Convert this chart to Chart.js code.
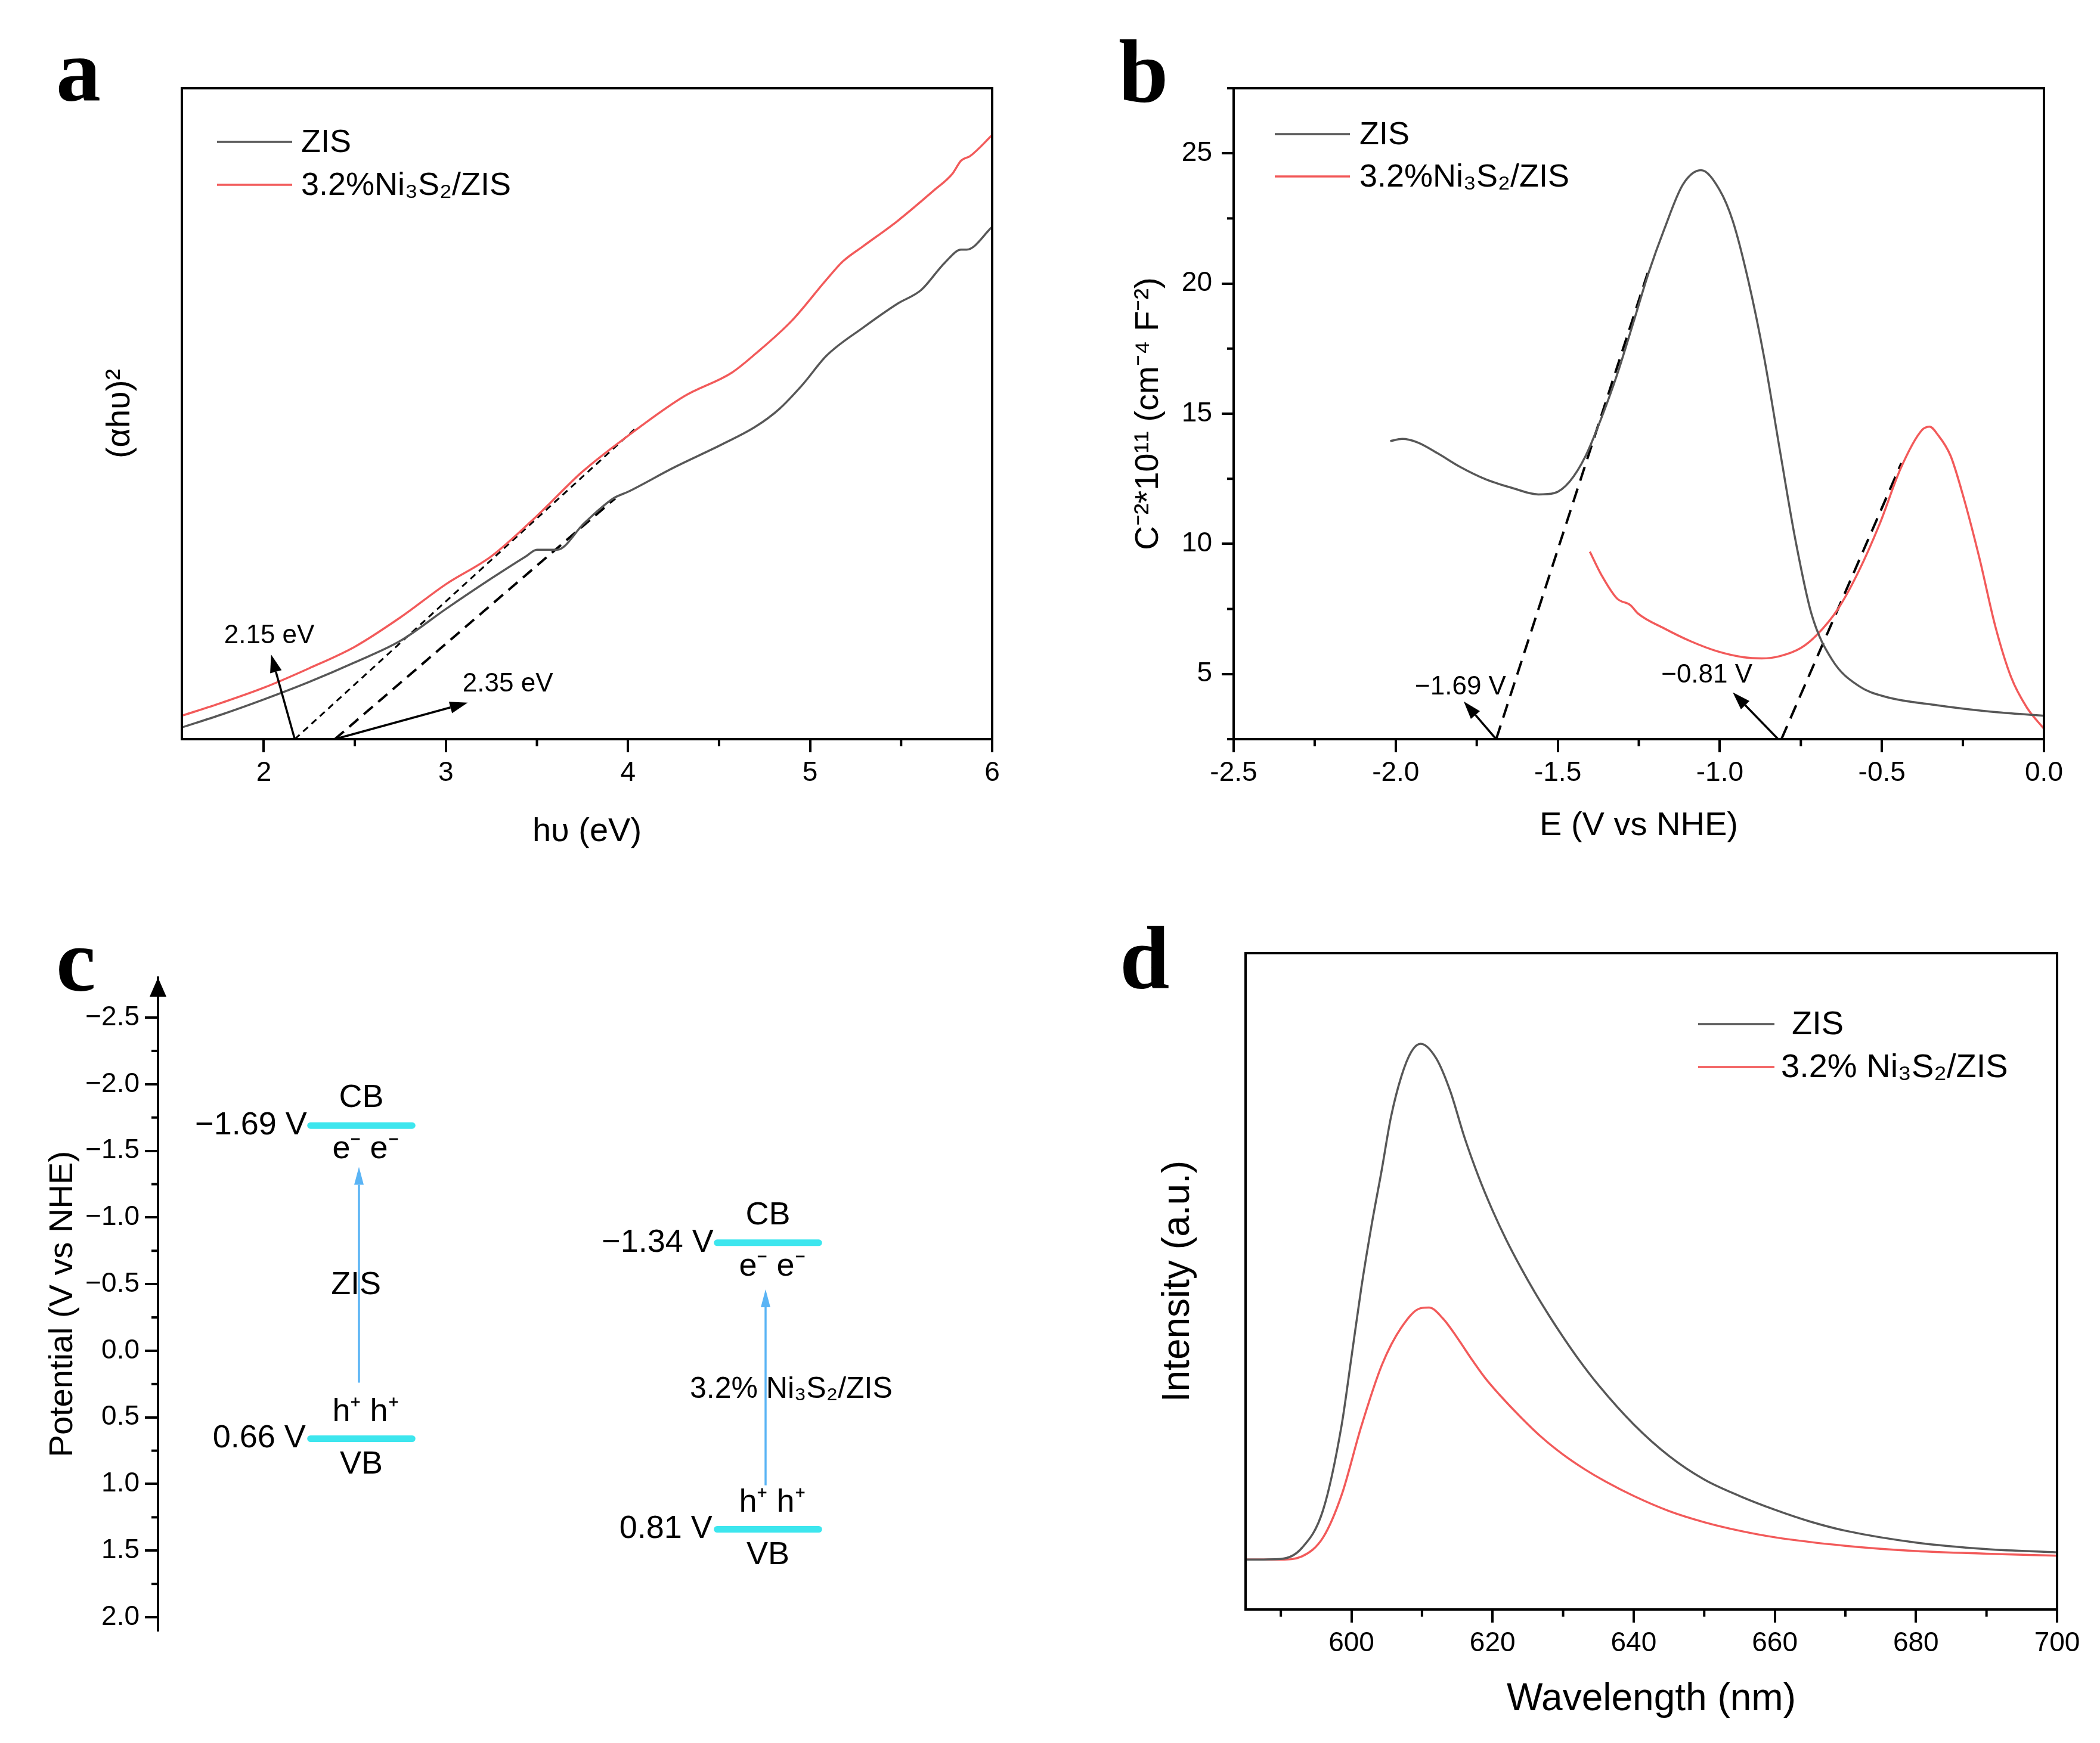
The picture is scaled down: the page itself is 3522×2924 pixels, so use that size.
<!DOCTYPE html>
<html>
<head>
<meta charset="utf-8">
<script src="https://cdn.jsdelivr.net/npm/chart.js@4.4.1/dist/chart.umd.min.js"></script>
<style>
html,body{margin:0;padding:0;background:#fff;}
body{width:3522px;height:2924px;position:relative;overflow:hidden;}
canvas{position:absolute;display:block;}
.letter{position:absolute;font-family:'Liberation Serif','Times New Roman',serif;font-weight:bold;font-size:150px;line-height:1;color:#000;}
</style>
</head>
<body>
<canvas id="ca" width="1761" height="1462" style="left:0;top:0"></canvas>
<canvas id="cb" width="1761" height="1462" style="left:1761px;top:0"></canvas>
<canvas id="cc" width="1761" height="1462" style="left:0;top:1462px"></canvas>
<canvas id="cd" width="1761" height="1462" style="left:1761px;top:1462px"></canvas>
<div class="letter" style="left:94px;top:42px">a</div>
<div class="letter" style="left:1876px;top:45px">b</div>
<div class="letter" style="left:94px;top:1536px">c</div>
<div class="letter" style="left:1878px;top:1532px">d</div>
<script>
// ---------------- DATA ----------------
// panel a: Tauc plot
const aSeries = ['ZIS', '3.2%Ni₃S₂/ZIS'];
const aZisX = [1.55,1.77,2.0,2.25,2.5,2.75,3.0,3.25,3.44,3.5,3.61,3.76,3.92,4.0,4.25,4.51,4.70,4.83,4.96,5.09,5.29,5.48,5.61,5.74,5.83,5.86,6.0];
const aZisY = [1.8,3.8,6.1,8.8,11.8,15.1,20.0,24.7,28.1,29.1,29.1,33.2,37.0,38.0,41.7,45.2,48.0,50.7,54.5,58.9,63.2,66.9,69.0,73.2,75.2,75.2,78.7];
const aNiX = [1.55,1.77,2.0,2.25,2.5,2.75,3.0,3.25,3.5,3.75,4.0,4.31,4.57,4.70,4.90,5.09,5.18,5.29,5.48,5.68,5.78,5.83,5.88,6.0];
const aNiY = [3.6,5.6,7.9,10.9,14.2,18.7,23.8,28.1,34.3,41.1,46.6,52.7,56.3,59.2,64.3,70.6,73.4,75.7,79.6,84.3,86.8,88.9,89.6,92.8];
const aFitNiX = [2.17,4.04];
const aFitNiY = [0,47.7];
const aFitZisX = [2.39,3.93];
const aFitZisY = [0,37.0];
const aNoteText = ['2.15 eV','2.35 eV'];
const aNoteX = [2.03,3.34];
const aNoteY = [15.9,8.4];
const aArrowTailX = [2.17,2.39];
const aArrowTailY = [0,0];
const aArrowTipX = [2.04,3.12];
const aArrowTipY = [13.0,5.6];
const aTicksX = [2,3,4,5,6];
const aTickLabelsX = ['2','3','4','5','6'];
const aMinorX = [2.5,3.5,4.5,5.5];

// panel b: Mott-Schottky
const bSeries = ['ZIS', '3.2%Ni₃S₂/ZIS'];
const bZisX = [-2.017,-1.98,-1.933,-1.868,-1.803,-1.722,-1.641,-1.56,-1.511,-1.463,-1.414,-1.365,-1.317,-1.268,-1.22,-1.171,-1.114,-1.058,-1.001,-0.96,-0.912,-0.863,-0.814,-0.766,-0.717,-0.652,-0.571,-0.49,-0.328,-0.166,0.0];
const bZisY = [13.95,14.03,13.9,13.46,12.97,12.48,12.15,11.9,11.95,12.4,13.38,14.85,16.5,18.45,20.4,22.1,23.8,24.35,23.6,22.4,20.1,17.14,13.54,10.1,7.3,5.52,4.54,4.13,3.8,3.56,3.4];
const bNiX = [-1.401,-1.365,-1.317,-1.276,-1.252,-1.171,-1.09,-1.009,-0.928,-0.871,-0.814,-0.75,-0.701,-0.636,-0.571,-0.507,-0.442,-0.377,-0.353,-0.328,-0.288,-0.247,-0.199,-0.15,-0.101,-0.053,0.0];
const bNiY = [9.7,8.8,7.9,7.65,7.32,6.75,6.26,5.88,5.65,5.6,5.69,6.0,6.5,7.49,8.96,10.76,12.9,14.36,14.5,14.2,13.38,11.74,9.45,6.83,4.87,3.72,2.9];
const bFitZisX = [-1.69,-1.22];
const bFitZisY = [2.5,20.5];
const bFitNiX = [-0.81,-0.44];
const bFitNiY = [2.5,13.1];
const bNoteText = ['−1.69 V','−0.81 V'];
const bNoteX = [-1.80,-1.04];
const bNoteY = [4.5,4.95];
const bArrowTailX = [-1.69,-0.82];
const bArrowTailY = [2.5,2.5];
const bArrowTipX = [-1.79,-0.96];
const bArrowTipY = [3.95,4.3];
const bTicksX = [-2.5,-2.0,-1.5,-1.0,-0.5,0.0];
const bTickLabelsX = ['-2.5','-2.0','-1.5','-1.0','-0.5','0.0'];
const bMinorX = [-2.25,-1.75,-1.25,-0.75,-0.25];
const bTicksY = [5,10,15,20,25];
const bTickLabelsY = ['5','10','15','20','25'];
const bMinorY = [2.5,7.5,12.5,17.5,22.5,27.5];

// panel c: band diagram
const cBands = ['ZIS', '3.2% Ni₃S₂/ZIS'];
const cCB = [-1.69,-0.81];          // drawn CB level
const cCBLabels = ['−1.69 V','−1.34 V'];
const cVB = [0.66,1.34];            // drawn VB level
const cVBLabels = ['0.66 V','0.81 V'];
const cArrowFrom = [0.24,1.01];
const cArrowTo = [-1.38,-0.46];
const cTicksY = [-2.5,-2.0,-1.5,-1.0,-0.5,0.0,0.5,1.0,1.5,2.0];
const cTickLabelsY = ['−2.5','−2.0','−1.5','−1.0','−0.5','0.0','0.5','1.0','1.5','2.0'];
const cMinorY = [-2.25,-1.75,-1.25,-0.75,-0.25,0.25,0.75,1.25,1.75];

// panel d: PL spectra
const dSeries = ['ZIS', '3.2% Ni₃S₂/ZIS'];
const dZisX = [585,590,593,596,598.6,600,601.4,602.8,604.3,605.6,607.1,608.5,609.8,612,614,616,618,620,622,624,626,628,630,632,635,640,645,650,655,660,665,670,680,690,700];
const dZisY = [7.6,7.7,9.4,15.2,28.0,38.4,49.0,58.2,67.0,75.0,81.3,85.0,86.2,84.0,79.0,72.0,66.0,60.8,56.2,52.1,48.3,44.8,41.5,38.4,34.2,28.2,23.4,19.8,17.3,15.2,13.4,12.0,10.2,9.2,8.7];
const dNiX = [585,590,593,596,598.6,601.4,604.3,607.1,609.8,611,613,615,617,619,621,624,627,630,633,636,640,645,650,655,660,670,680,690,700];
const dNiY = [7.6,7.6,8.1,11.0,17.4,27.9,37.2,43.0,45.9,46.0,44.3,41.4,38.2,35.2,32.7,29.3,26.2,23.6,21.4,19.5,17.3,15.0,13.3,12.0,11.0,9.7,8.9,8.5,8.2];
const dTicksX = [600,620,640,660,680,700];
const dTickLabelsX = ['600','620','640','660','680','700'];
const dMinorX = [590,610,630,650,670,690];

// ---------------- STYLE / HELPERS ----------------
const FONT = "'Liberation Sans', Arial, Helvetica, sans-serif";
Chart.defaults.font.family = FONT;
Chart.defaults.color = '#000';
const GRAY = '#575757';
const RED = '#f25a5a';
const CYAN = '#3de6ee';
const BLUE = '#5ab4f5';
const pts = (xs, ys) => xs.map((x, i) => ({x: x, y: ys[i]}));

function drawArrow(ctx, x1, y1, x2, y2, color, lw, hl, hw) {
  const ang = Math.atan2(y2 - y1, x2 - x1);
  const bx = x2 - hl * Math.cos(ang), by = y2 - hl * Math.sin(ang);
  ctx.strokeStyle = color; ctx.fillStyle = color; ctx.lineWidth = lw;
  ctx.beginPath(); ctx.moveTo(x1, y1); ctx.lineTo(bx, by); ctx.stroke();
  ctx.beginPath(); ctx.moveTo(x2, y2);
  ctx.lineTo(bx + hw * Math.sin(ang), by - hw * Math.cos(ang));
  ctx.lineTo(bx - hw * Math.sin(ang), by + hw * Math.cos(ang));
  ctx.closePath(); ctx.fill();
}

const framePlugin = {
  id: 'frame',
  afterDraw(chart) {
    const {ctx, chartArea: a} = chart;
    ctx.save(); ctx.strokeStyle = '#000'; ctx.lineWidth = 4;
    ctx.strokeRect(a.left, a.top, a.right - a.left, a.bottom - a.top);
    ctx.restore();
  }
};

const minorPlugin = {
  id: 'minor',
  afterDraw(chart, args, opts) {
    const ctx = chart.ctx;
    ctx.save(); ctx.strokeStyle = '#000'; ctx.lineWidth = 4;
    (opts.axes || []).forEach(ax => {
      const s = chart.scales[ax.id];
      ax.values.forEach(v => {
        const p = s.getPixelForValue(v);
        ctx.beginPath();
        if (s.isHorizontal()) { ctx.moveTo(p, s.top); ctx.lineTo(p, s.top + ax.len); }
        else { ctx.moveTo(s.right, p); ctx.lineTo(s.right - ax.len, p); }
        ctx.stroke();
      });
    });
    ctx.restore();
  }
};

const legendPlugin = {
  id: 'inLegend',
  afterDraw(chart, args, o) {
    if (!o || !o.items) return;
    const ctx = chart.ctx;
    ctx.save();
    ctx.font = o.size + 'px ' + FONT;
    ctx.textBaseline = 'middle'; ctx.textAlign = 'left';
    o.items.forEach((idx, i) => {
      const ds = chart.data.datasets[idx];
      const y = o.y + i * o.gap;
      ctx.strokeStyle = ds.borderColor; ctx.lineWidth = ds.borderWidth;
      ctx.beginPath(); ctx.moveTo(o.x, y); ctx.lineTo(o.x + o.len, y); ctx.stroke();
      ctx.fillStyle = '#000';
      ctx.fillText(ds.label, o.x + o.len + o.textGap + (o.dx ? o.dx[i] : 0), y + 2);
    });
    ctx.restore();
  }
};

const notesPlugin = {
  id: 'notes',
  afterDatasetsDraw(chart, args, o) {
    if (!o || !o.text) return;
    const {ctx, scales: {x, y}} = chart;
    ctx.save();
    o.text.forEach((t, i) => {
      drawArrow(ctx, x.getPixelForValue(o.tailX[i]), y.getPixelForValue(o.tailY[i]),
        x.getPixelForValue(o.tipX[i]), y.getPixelForValue(o.tipY[i]), '#000', 3.5, 30, 10);
      ctx.fillStyle = '#000'; ctx.font = o.size + 'px ' + FONT;
      ctx.textAlign = 'center'; ctx.textBaseline = 'middle';
      ctx.fillText(t, x.getPixelForValue(o.x[i]), y.getPixelForValue(o.y[i]));
    });
    ctx.restore();
  }
};

function xAxis(min, max, ticks, labels, height, title, tsize, tpad) {
  return {
    type: 'linear', min: min, max: max,
    afterBuildTicks: s => { s.ticks = ticks.map(v => ({value: v})); },
    afterFit: s => { s.height = height; },
    ticks: {font: {size: 46}, padding: 8, maxRotation: 0, autoSkip: false, callback: (v, i) => labels[i]},
    grid: {drawOnChartArea: false, tickLength: 22, tickWidth: 4, tickColor: '#000', lineWidth: 4},
    border: {color: '#000', width: 4},
    title: {display: true, text: title, font: {size: tsize}, padding: {top: 0, bottom: tpad}}
  };
}
function blankY(min, max, width, title, tsize, tpadTop) {
  return {
    type: 'linear', min: min, max: max,
    afterFit: s => { s.width = width; },
    ticks: {display: false}, grid: {display: false},
    border: {color: '#000', width: 4},
    title: {display: true, text: title, font: {size: tsize}, padding: {top: tpadTop, bottom: 0}}
  };
}
const baseOpts = {responsive: false, animation: false, devicePixelRatio: 1, events: []};
function curve(label, data, color, w) {
  return {label: label, data: data, borderColor: color, backgroundColor: color, borderWidth: w,
    pointRadius: 0, fill: false, cubicInterpolationMode: 'monotone'};
}
function dashed(label, data, dash, w) {
  return {label: label, data: data, borderColor: '#000', borderWidth: w, borderDash: dash,
    pointRadius: 0, fill: false, tension: 0};
}

// ---------------- PANEL A ----------------
new Chart(document.getElementById('ca'), {
  type: 'line',
  data: {datasets: [
    curve(aSeries[0], pts(aZisX, aZisY), GRAY, 3.5),
    curve(aSeries[1], pts(aNiX, aNiY), RED, 3.5),
    dashed('fit Ni', pts(aFitNiX, aFitNiY), [11, 8], 3),
    dashed('fit ZIS', pts(aFitZisX, aFitZisY), [20, 12], 4)
  ]},
  options: Object.assign({}, baseOpts, {
    layout: {padding: {left: 0, top: 148, right: 97, bottom: 0}},
    scales: {
      x: xAxis(1.55, 6, aTicksX, aTickLabelsX, 222, 'hυ (eV)', 56, 33),
      y: blankY(0, 100, 305, '(αhυ)²', 56, 168)
    },
    plugins: {
      legend: {display: false}, tooltip: {enabled: false},
      minor: {axes: [{id: 'x', values: aMinorX, len: 12}]},
      inLegend: {items: [0, 1], x: 364, y: 238, gap: 72, len: 126, textGap: 15, size: 54},
      notes: {text: aNoteText, x: aNoteX, y: aNoteY, tailX: aArrowTailX, tailY: aArrowTailY,
              tipX: aArrowTipX, tipY: aArrowTipY, size: 44}
    }
  }),
  plugins: [framePlugin, minorPlugin, legendPlugin, notesPlugin]
});

// ---------------- PANEL B ----------------
new Chart(document.getElementById('cb'), {
  type: 'line',
  data: {datasets: [
    curve(bSeries[0], pts(bZisX, bZisY), GRAY, 3.5),
    curve(bSeries[1], pts(bNiX, bNiY), RED, 3.5),
    dashed('fit ZIS', pts(bFitZisX, bFitZisY), [24, 14], 4),
    dashed('fit Ni', pts(bFitNiX, bFitNiY), [24, 14], 4)
  ]},
  options: Object.assign({}, baseOpts, {
    layout: {padding: {left: 0, top: 148, right: 94, bottom: 0}},
    scales: {
      x: xAxis(-2.5, 0, bTicksX, bTickLabelsX, 222, 'E (V vs NHE)', 56, 43),
      y: {
        type: 'linear', min: 2.5, max: 27.5,
        afterBuildTicks: s => { s.ticks = bTicksY.map(v => ({value: v})); },
        afterFit: s => { s.width = 308; },
        ticks: {font: {size: 46}, padding: 16, callback: (v, i) => bTickLabelsY[i]},
        grid: {drawOnChartArea: false, tickLength: 20, tickWidth: 4, tickColor: '#000', lineWidth: 4},
        border: {color: '#000', width: 4},
        title: {display: true, text: 'C⁻²*10¹¹ (cm⁻⁴ F⁻²)', font: {size: 56}, padding: {top: 132, bottom: 0}}
      }
    },
    plugins: {
      legend: {display: false}, tooltip: {enabled: false},
      minor: {axes: [{id: 'x', values: bMinorX, len: 12}, {id: 'y', values: bMinorY, len: 11}]},
      inLegend: {items: [0, 1], x: 377, y: 225, gap: 71, len: 126, textGap: 16, size: 54},
      notes: {text: bNoteText, x: bNoteX, y: bNoteY, tailX: bArrowTailX, tailY: bArrowTailY,
              tipX: bArrowTipX, tipY: bArrowTipY, size: 44}
    }
  }),
  plugins: [framePlugin, minorPlugin, legendPlugin, notesPlugin]
});

// ---------------- PANEL C ----------------
const bandX = [1, 2];          // layout slots for the two materials
const BAR_HALF = 0.125;
const matLabelY = [-0.49, 0.29];
const matLabelDX = [-0.013, 0.057];
const cDatasets = [];
cBands.forEach((name, i) => {
  cDatasets.push({label: name + ' CB', data: [{x: bandX[i] - BAR_HALF, y: cCB[i]}, {x: bandX[i] + BAR_HALF, y: cCB[i]}],
    borderColor: CYAN, borderWidth: 11, borderCapStyle: 'round', pointRadius: 0, fill: false});
  cDatasets.push({label: name + ' VB', data: [{x: bandX[i] - BAR_HALF, y: cVB[i]}, {x: bandX[i] + BAR_HALF, y: cVB[i]}],
    borderColor: CYAN, borderWidth: 11, borderCapStyle: 'round', pointRadius: 0, fill: false});
});
const bandTextPlugin = {
  id: 'bandText',
  afterDatasetsDraw(chart) {
    const {ctx, scales: {x, y}, chartArea: a} = chart;
    ctx.save();
    // axis arrow head
    ctx.fillStyle = '#000';
    ctx.beginPath(); ctx.moveTo(a.left, a.top); ctx.lineTo(a.left - 14, a.top + 32); ctx.lineTo(a.left + 14, a.top + 32); ctx.closePath(); ctx.fill();
    cBands.forEach((name, i) => {
      const cx = x.getPixelForValue(bandX[i]);
      const lx = x.getPixelForValue(bandX[i] - BAR_HALF);
      const yc = y.getPixelForValue(cCB[i]);
      const yv = y.getPixelForValue(cVB[i]);
      const ax = cx - 4;
      drawArrow(ctx, ax, y.getPixelForValue(cArrowFrom[i]), ax, y.getPixelForValue(cArrowTo[i]), BLUE, 3.5, 30, 8);
      ctx.fillStyle = '#000'; ctx.textBaseline = 'middle';
      ctx.font = '54px ' + FONT;
      ctx.textAlign = 'center';
      ctx.fillText('CB', cx, yc - 46);
      ctx.fillText('e⁻ e⁻', cx + 7, yc + 40);
      ctx.fillText('h⁺ h⁺', cx + 7, yv - 44);
      ctx.fillText('VB', cx, yv + 44);
      ctx.textAlign = 'right';
      ctx.fillText(cCBLabels[i], lx - 6, yc);
      ctx.fillText(cVBLabels[i], lx - 8, yv);
      ctx.textAlign = 'center';
      ctx.font = (i === 0 ? 54 : 50) + 'px ' + FONT;
      ctx.fillText(name, x.getPixelForValue(bandX[i] + matLabelDX[i]), y.getPixelForValue(matLabelY[i]));
    });
    ctx.restore();
  }
};
new Chart(document.getElementById('cc'), {
  type: 'line',
  data: {datasets: cDatasets},
  options: Object.assign({}, baseOpts, {
    layout: {padding: {left: 0, top: 178, right: 132, bottom: 188.6}},
    scales: {
      x: {type: 'linear', min: 0.5, max: 2.5, display: false},
      y: {
        type: 'linear', reverse: true, min: -2.8, max: 2.1,
        afterBuildTicks: s => { s.ticks = cTicksY.map(v => ({value: v})); },
        afterFit: s => { s.width = 265; },
        ticks: {font: {size: 46}, padding: 9, callback: (v, i) => cTickLabelsY[i]},
        grid: {drawOnChartArea: false, tickLength: 22, tickWidth: 4, tickColor: '#000', lineWidth: 4},
        border: {color: '#000', width: 4},
        title: {display: true, text: 'Potential (V vs NHE)', font: {size: 56}, padding: {top: 72, bottom: 0}}
      }
    },
    plugins: {
      legend: {display: false}, tooltip: {enabled: false},
      minor: {axes: [{id: 'y', values: cMinorY, len: 11}]}
    }
  }),
  plugins: [minorPlugin, bandTextPlugin]
});

// ---------------- PANEL D ----------------
new Chart(document.getElementById('cd'), {
  type: 'line',
  data: {datasets: [
    curve(dSeries[0], pts(dZisX, dZisY), GRAY, 3.5),
    curve(dSeries[1], pts(dNiX, dNiY), RED, 3.5)
  ]},
  options: Object.assign({}, baseOpts, {
    layout: {padding: {left: 0, top: 137, right: 72, bottom: 0}},
    scales: {
      x: xAxis(585, 700, dTicksX, dTickLabelsX, 224, 'Wavelength (nm)', 64, 34),
      y: blankY(0, 100, 328, 'Intensity (a.u.)', 64, 177)
    },
    plugins: {
      legend: {display: false}, tooltip: {enabled: false},
      minor: {axes: [{id: 'x', values: dMinorX, len: 12}]},
      inLegend: {items: [0, 1], x: 1087, y: 256, gap: 72, len: 128, textGap: 11, size: 56, dx: [18, 0]}
    }
  }),
  plugins: [framePlugin, minorPlugin, legendPlugin]
});
</script>
</body>
</html>
